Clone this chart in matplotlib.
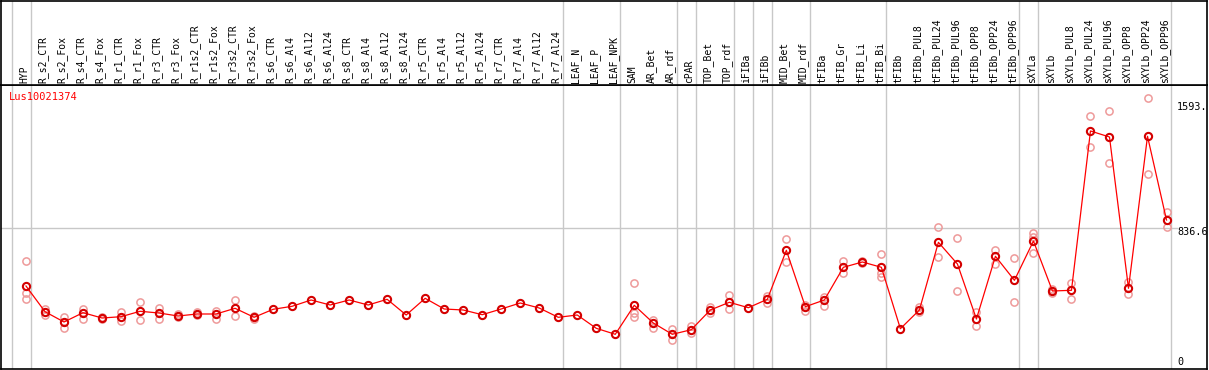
import matplotlib
matplotlib.use("Agg")
import matplotlib.pyplot as plt
from matplotlib.transforms import offset_copy, blended_transform_factory

samples = ["HYP", "R_s2_CTR", "R_s2_Fox", "R_s4_CTR", "R_s4_Fox", "R_r1_CTR", "R_r1_Fox",
           "R_r3_CTR", "R_r3_Fox", "R_r1s2_CTR", "R_r1s2_Fox", "R_r3s2_CTR", "R_r3s2_Fox",
           "R_s6_CTR", "R_s6_Al4", "R_s6_Al12", "R_s6_Al24", "R_s8_CTR", "R_s8_Al4",
           "R_s8_Al12", "R_s8_Al24", "R_r5_CTR", "R_r5_Al4", "R_r5_Al12", "R_r5_Al24",
           "R_r7_CTR", "R_r7_Al4", "R_r7_Al12", "R_r7_Al24", "LEAF_N", "LEAF_P", "LEAF_NPK",
           "SAM", "AR_Bet", "AR_rdf", "cPAR", "TOP_Bet", "TOP_rdf", "iFIBa", "iFIBb",
           "MID_Bet", "MID_rdf", "tFIBa", "tFIB_Gr", "tFIB_Li", "tFIB_Bi", "tFIBb",
           "tFIBb_PUL8", "tFIBb_PUL24", "tFIBb_PUL96", "tFIBb_OPP8", "tFIBb_OPP24",
           "tFIBb_OPP96", "sXYLa", "sXYLb", "sXYLb_PUL8", "sXYLb_PUL24", "sXYLb_PUL96",
           "sXYLb_OPP8", "sXYLb_OPP24", "sXYLb_OPP96"]

# group sizes (gray separators between groups)
group_sizes = [1, 28, 3, 3, 1, 2, 1, 1, 2, 4, 7, 1, 7]

mean_values = [475.6, 314.8, 250.3, 308.5, 275.3, 283.5, 317.3, 306.6, 287.9, 300.4,
               300.4, 336.0, 279.7, 329.8, 348.6, 388.0, 356.7, 388.0, 356.7, 392.4,
               294.1, 398.6, 331.7, 325.4, 296.0, 331.7, 369.2, 337.9, 279.7, 294.1,
               210.9, 173.3, 354.8, 244.1, 173.3, 202.1, 325.4, 373.6, 339.8, 392.4,
               699.0, 346.1, 388.0, 592.6, 625.8, 592.6, 208.4, 325.4, 749.1, 613.3,
               269.1, 661.5, 511.3, 757.2, 444.3, 448.7, 1445.6, 1408.0, 461.2, 1412.4,
               888.6]

replicates = [
    [630.2, 433.7, 392.4], [329.8, 294.1], [283.5, 212.8], [333.5, 269.1],
    [281.6, 269.1], [312.9, 254.7], [373.6, 262.8], [336.0, 267.2],
    [300.4, 279.7], [309.8, 291.0], [319.1, 271.0], [388.0, 286.0],
    [287.9, 272.2], [], [], [], [], [], [], [], [], [], [], [], [], [], [], [], [],
    [], [], [],
    [492.5, 304.8, 279.7], [261.0, 214.6], [206.5, 137.7], [223.4, 181.5],
    [342.3, 306.6], [419.3, 329.8], [], [414.9, 371.1],
    [767.8, 623.9], [356.7, 321.0], [404.9, 350.4], [633.9, 555.1],
    [632.0, 619.5], [675.8, 558.8, 530.0], [],
    [342.3, 311.0], [842.9, 655.2], [774.1, 444.3], [314.8, 222.2],
    [700.9, 615.1], [648.9, 373.6], [805.4, 784.1, 680.2], [456.8, 429.9],
    [494.4, 396.1], [1539.4, 1343.6], [1568.8, 1243.4], [498.7, 423.7],
    [1650.2, 1176.5], [936.8, 842.9],
]

gene_id = "Lus10021374"
y_tick_values = [1593.0, 836.6, 0.0]
y_tick_labels = ["1593.", "836.6", "0"]
ref_line_value = 836.6

W, H = 1209, 370
fig = plt.figure(figsize=(W / 100, H / 100), dpi=100)
mono = "DejaVu Sans Mono"

x = list(range(len(samples)))
xlim = (-1.315, 62.13)
ylim = (-43.8, 1733.4)

# main plot axes
ax = fig.add_axes([1 / W, 1 - 369 / H, 1206 / W, 284 / H])
ax.set_xlim(*xlim)
ax.set_ylim(*ylim)
ax.set_xticks([])
ax.set_yticks([])
for s in ax.spines.values():
    s.set_color("black")
    s.set_linewidth(1.2)

# label axes
lax = fig.add_axes([1 / W, 1 - 85 / H, 1206 / W, 84.5 / H])
lax.set_xlim(*xlim)
lax.set_ylim(0, 1)
lax.set_xticks([])
lax.set_yticks([])
for s in lax.spines.values():
    s.set_color("black")
    s.set_linewidth(1.2)

# group separators
bounds = [-1]
acc = -1
for g in group_sizes:
    acc += g
    bounds.append(acc)
for b in bounds:
    ax.axvline(b + 0.25, color="#c8c8c8", lw=1, zorder=0)
    lax.axvline(b + 0.25, color="#c8c8c8", lw=1, zorder=0)

# horizontal reference line
ax.axhline(ref_line_value, xmin=0, xmax=(1177 - 1) / 1206, color="#c8c8c8", lw=1, zorder=0)

# sample labels
for xi, name in zip(x, samples):
    lax.text(xi - 0.1, 0.025, name, rotation=90, ha="center", va="bottom",
             fontsize=7.0, family=mono, color="black")

# replicates
rx, ry = [], []
for xi, reps in zip(x, replicates):
    for r in reps:
        rx.append(xi)
        ry.append(r)
ax.plot(rx, ry, linestyle="none", marker="o", markersize=5.2, markerfacecolor="none",
        markeredgecolor="#ee9a9a", markeredgewidth=1.1, zorder=2)

# means
ax.plot(x, mean_values, color="#ff0000", lw=0.9, zorder=3)
ax.plot(x, mean_values, linestyle="none", marker="o", markersize=5.2,
        markerfacecolor="none", markeredgecolor="#d40000", markeredgewidth=1.5, zorder=4)

# gene id
ax.text(8 / 1206, 1 - 12.5 / 284, gene_id, transform=ax.transAxes, ha="left", va="center",
        fontsize=7.5, family=mono, color="red")

# y labels on the right, inside
trans = blended_transform_factory(ax.transAxes, ax.transData)
for v, lab in zip(y_tick_values, y_tick_labels):
    t = trans
    if lab == "836.6":
        t = offset_copy(trans, fig=fig, y=-3, units="points")
    ax.text((1177 - 1) / 1206, v, lab, transform=t, ha="left", va="center",
            fontsize=7.3, family=mono, color="black")

fig.savefig("out.png", dpi=100)
